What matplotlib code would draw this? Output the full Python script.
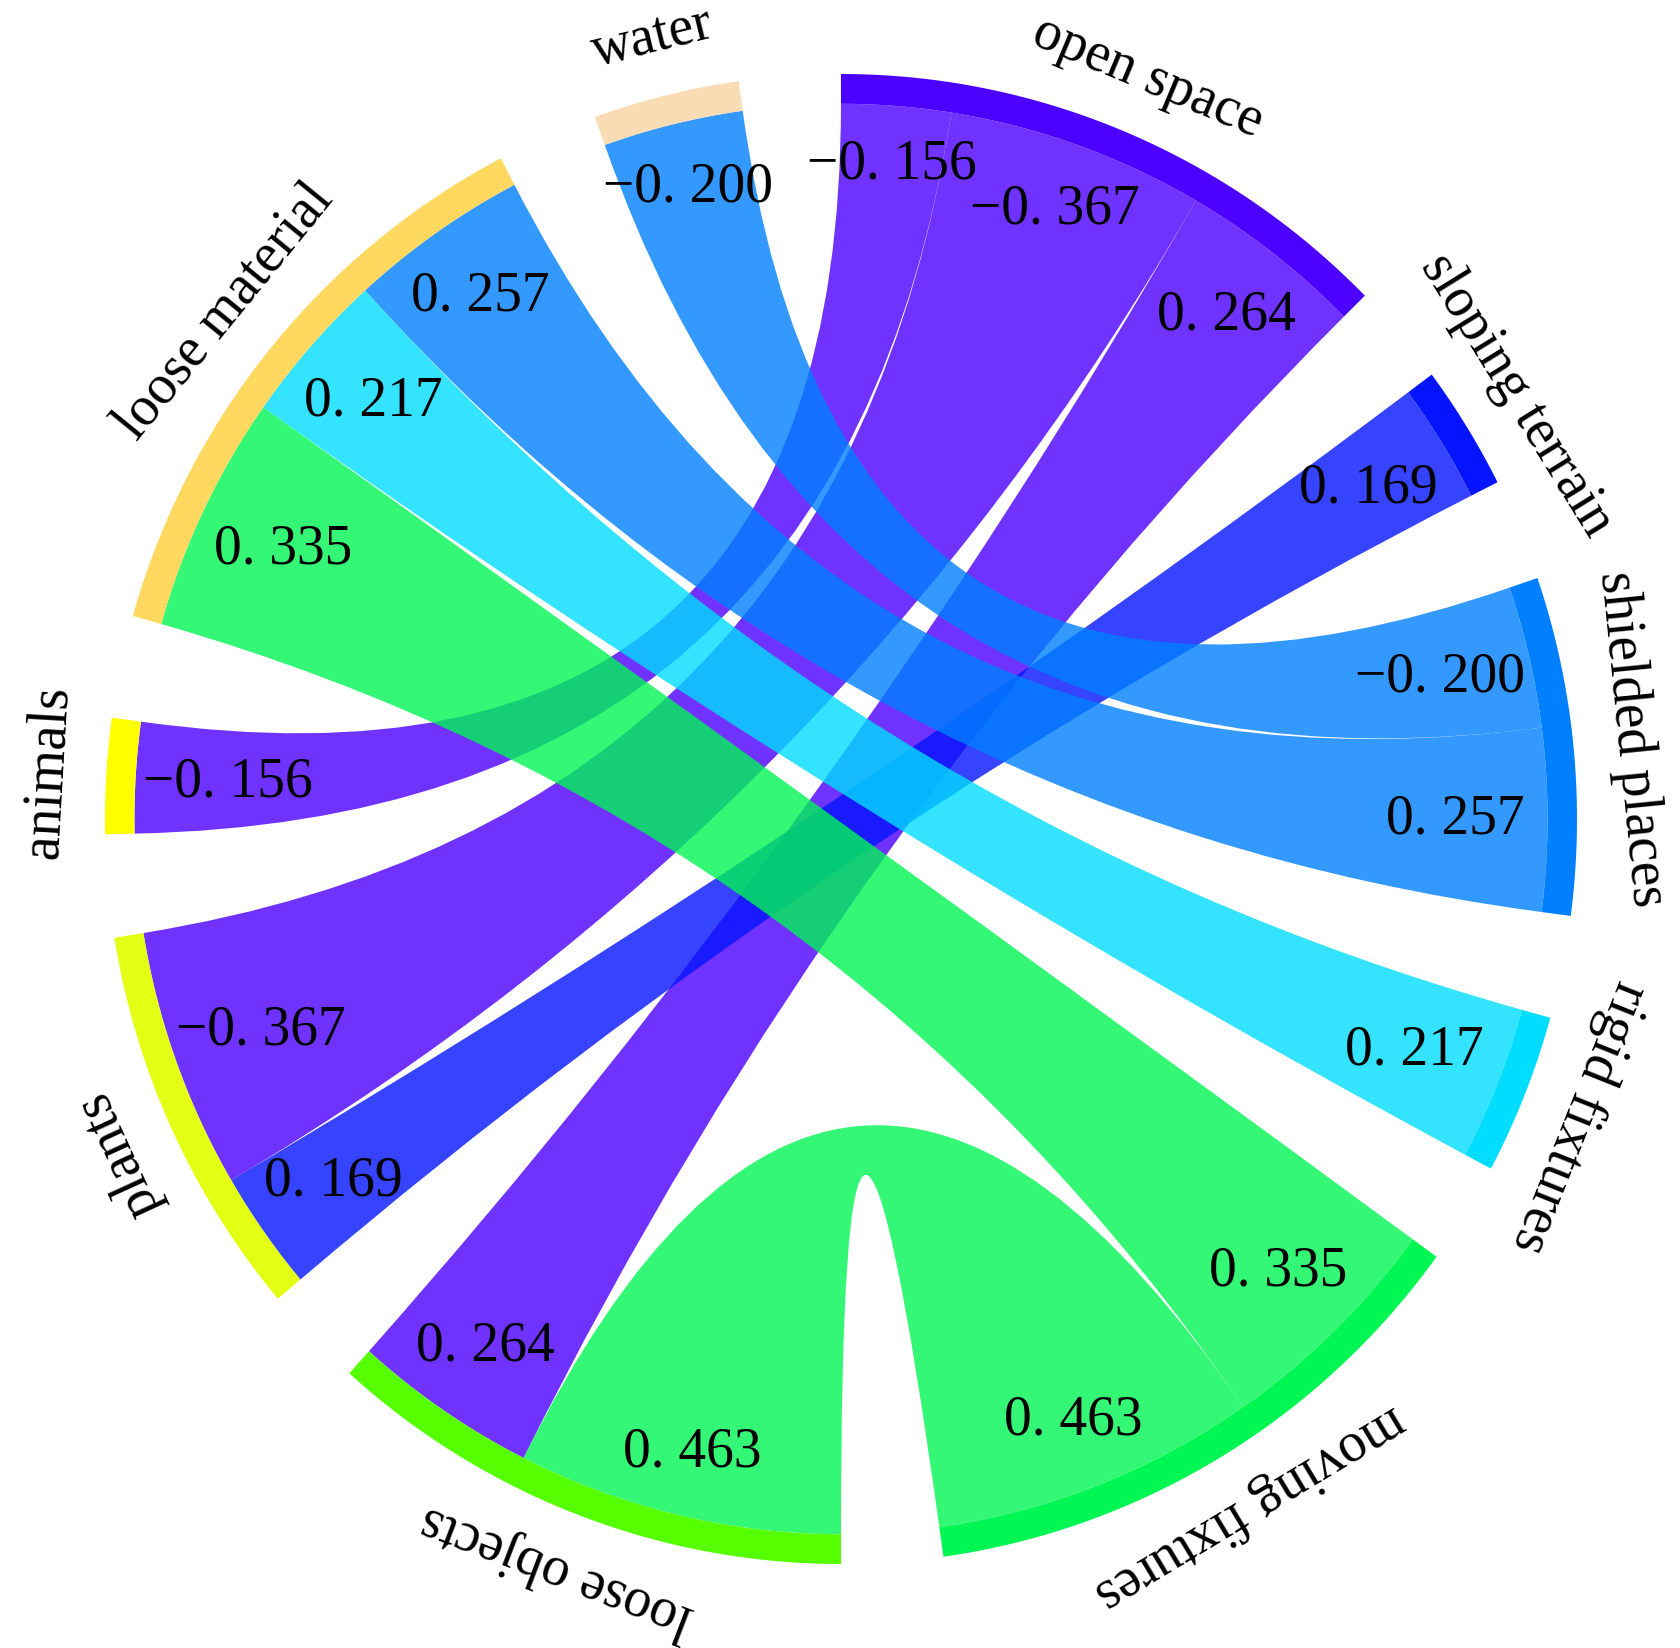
import numpy as np
import matplotlib
matplotlib.use('Agg')
import matplotlib.pyplot as plt
from matplotlib.path import Path
from matplotlib.patches import PathPatch, Polygon

# ---------------- data ----------------
nodes = ['open space', 'sloping terrain', 'shielded places', 'rigid fixtures',
         'moving fixtures', 'loose objects', 'plants', 'animals',
         'loose material', 'water']
node_colors = ['#4C00FF', '#0414FF', '#0080FF', '#00DDFF', '#00F653',
               '#55FF00', '#E2FF14', '#FFFF00', '#FFD860', '#FADCB4']

link_src = ['open space', 'open space', 'open space', 'sloping terrain',
            'shielded places', 'shielded places', 'rigid fixtures',
            'moving fixtures', 'moving fixtures']
link_tgt = ['animals', 'plants', 'loose objects', 'plants', 'water',
            'loose material', 'loose material', 'loose material',
            'loose objects']
link_val = [-0.156, -0.367, 0.264, 0.169, -0.200, 0.257, 0.217, 0.335, 0.463]

# ---------------- layout ----------------
W, H = 1681, 1648
CX, CY = 841, 819
RX, RY = 736, 745
R_IN, R_OUT = 0.96, 1.0
GAP = 8.0

fig = plt.figure(figsize=(W / 100, H / 100), dpi=100)
ax = fig.add_axes([0, 0, 1, 1])
ax.set_xlim(-CX / RX, (W - CX) / RX)
ax.set_ylim((CY - H) / RY, CY / RY)
ax.axis('off')

N = len(nodes)
idx = {n: i for i, n in enumerate(nodes)}
sizes = np.zeros(N)
for s, t, v in zip(link_src, link_tgt, link_val):
    sizes[idx[s]] += abs(v)
    sizes[idx[t]] += abs(v)
k = (360.0 - N * GAP) / sizes.sum()

starts = []
a = 90.0
for i in range(N):
    starts.append(a)
    a -= sizes[i] * k + GAP

ends = {}
for i in range(N):
    lst = []
    for li, (s, t) in enumerate(zip(link_src, link_tgt)):
        if idx[s] == i:
            lst.append((li, idx[t]))
        elif idx[t] == i:
            lst.append((li, idx[s]))
    lst.sort(key=lambda p: -((p[1] - i) % N))
    a = starts[i]
    for li, other in lst:
        w = abs(link_val[li]) * k
        ends[(li, i)] = (a, a - w)
        a -= w


def pt(r, deg):
    t = np.deg2rad(deg)
    return (r * np.cos(t), r * np.sin(t))


def arc(r, d1, d2, n=120):
    ds = np.linspace(d1, d2, n)
    return [pt(r, d) for d in ds]


# ribbons
for li, (s, t, v) in enumerate(zip(link_src, link_tgt, link_val)):
    i, j = idx[s], idx[t]
    a1, a2 = ends[(li, i)]
    b1, b2 = ends[(li, j)]
    verts, codes = [], []
    arcA = arc(R_IN, a1, a2)
    verts += arcA
    codes += [Path.MOVETO] + [Path.LINETO] * (len(arcA) - 1)
    verts += [(0, 0), pt(R_IN, b1)]
    codes += [Path.CURVE3, Path.CURVE3]
    arcB = arc(R_IN, b1, b2)[1:]
    verts += arcB
    codes += [Path.LINETO] * len(arcB)
    verts += [(0, 0), pt(R_IN, a1)]
    codes += [Path.CURVE3, Path.CURVE3]
    verts.append(pt(R_IN, a1))
    codes.append(Path.CLOSEPOLY)
    ax.add_patch(PathPatch(Path(verts, codes), facecolor=node_colors[i],
                           alpha=0.8, linewidth=0, zorder=2))

# outer ring and node labels
for i in range(N):
    d1 = starts[i]
    d2 = d1 - sizes[i] * k
    poly = arc(R_OUT, d1, d2) + arc(R_IN, d2, d1)
    ax.add_patch(Polygon(poly, closed=True, facecolor=node_colors[i],
                         edgecolor='none', zorder=3))
    mid = (d1 + d2) / 2
    x, y = pt(1.08, mid)
    ax.text(x, y, nodes[i], rotation=mid - 90, ha='center', va='center',
            rotation_mode='anchor', fontsize=40, family='Liberation Serif',
            zorder=5)

# value labels
for li, v in enumerate(link_val):
    s = f"{abs(v):.3f}".replace('.', '. ')
    if v < 0:
        s = '\u2212' + s
    for node in (link_src[li], link_tgt[li]):
        a1, a2 = ends[(li, idx[node])]
        mid = (a1 + a2) / 2
        r = 0.885 - 0.05 * abs(np.cos(np.deg2rad(mid)))
        x, y = pt(r, mid)
        ax.text(x, y, s, ha='center', va='center', fontsize=40,
                family='Liberation Serif', zorder=6)

fig.savefig('out.png', dpi=100, facecolor='white')
